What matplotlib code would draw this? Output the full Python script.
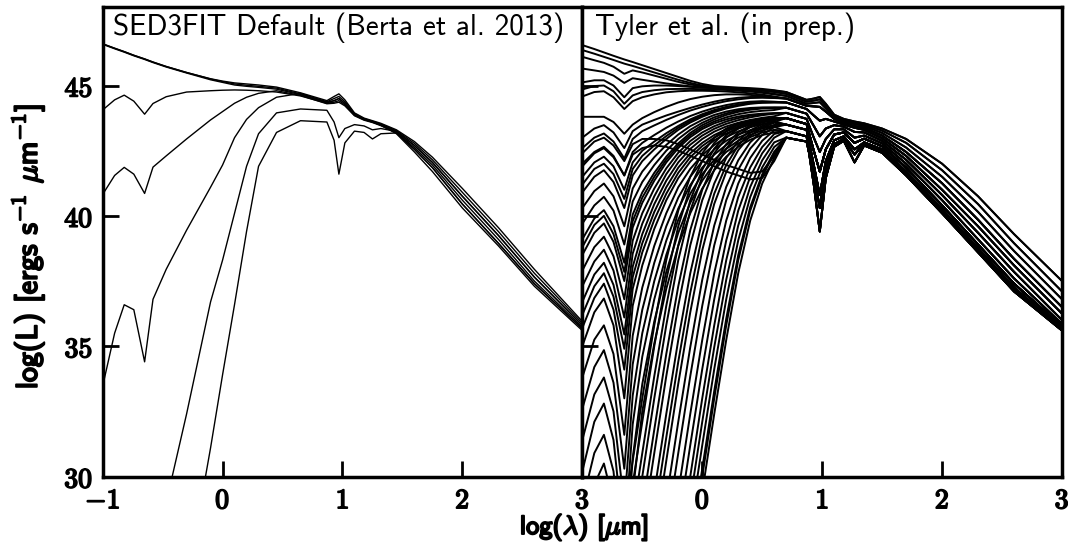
import numpy as np
import matplotlib.pyplot as plt
import matplotlib.patheffects as pe
from matplotlib.ticker import FuncFormatter

plt.rcParams['mathtext.fontset'] = 'cm'
nan = np.nan

# ---- left panel: SED3FIT default AGN templates (log lambda grid) ----
x_left = [-1.0, -0.9, -0.82, -0.74, -0.65, -0.58, -0.47, -0.3, -0.1, 0.0,
          0.1, 0.2, 0.3, 0.45, 0.65, 0.87, 0.93, 0.97, 1.02, 1.1,
          1.18, 1.25, 1.32, 1.45, 1.6, 1.75, 2.0, 2.3, 2.6, 3.0]

sed_a1 = [46.6, 46.43, 46.3, 46.16, 46.02, 45.9, 45.73, 45.5, 45.26, 45.17,
          45.1, 45.06, 45.02, 44.94, 44.72, 44.42, 44.58, 44.68, 44.45, 43.95,
          43.75, 43.65, 43.55, 43.3, 42.85, 42.25, 41.05, 39.55, 37.95, 35.95]
sed_a2 = [46.6, 46.43, 46.3, 46.16, 46.02, 45.9, 45.73, 45.5, 45.25, 45.15,
          45.06, 45.01, 44.97, 44.9, 44.68, 44.38, 44.5, 44.58, 44.38, 43.92,
          43.73, 43.63, 43.52, 43.27, 42.78, 42.15, 40.9, 39.4, 37.8, 35.88]
sed_a3 = [46.58, 46.41, 46.28, 46.14, 46.0, 45.88, 45.71, 45.48, 45.22, 45.12,
          45.02, 44.97, 44.93, 44.86, 44.65, 44.34, 44.42, 44.5, 44.32, 43.9,
          43.71, 43.61, 43.5, 43.24, 42.7, 42.05, 40.75, 39.25, 37.65, 35.8]
sed_b = [44.06, 44.45, 44.63, 44.4, 43.9, 44.31, 44.57, 44.75, 44.8, 44.82,
         44.83, 44.82, 44.8, 44.75, 44.6, 44.32, 44.36, 44.42, 44.26, 43.86,
         43.69, 43.6, 43.48, 43.21, 42.62, 41.95, 40.6, 39.1, 37.5, 35.73]
sed_c = [40.82, 41.55, 41.86, 41.6, 40.86, 41.87, 42.3, 42.95, 43.68, 44.0,
         44.32, 44.55, 44.7, 44.8, 44.62, 44.3, 44.32, 44.36, 44.22, 43.84,
         43.67, 43.58, 43.46, 43.18, 42.55, 41.85, 40.45, 38.95, 37.4, 35.67]
sed_d = [33.46, 35.5, 36.59, 36.4, 34.4, 36.8, 37.95, 39.45, 41.1, 41.95,
         43.0, 43.7, 44.15, 44.55, 44.7, 44.36, 44.42, 44.5, 44.3, 43.88,
         43.7, 43.6, 43.48, 43.15, 42.45, 41.7, 40.3, 38.85, 37.3, 35.6]
sed_e = [nan, nan, nan, nan, nan, nan, 29.0, 32.4, 36.7, 38.3,
         40.1, 41.9, 43.15, 43.95, 44.1, 44.05, 43.6, 43.0, 43.35, 43.5,
         43.45, 43.3, 43.35, 43.24, 42.7, 42.05, 40.75, 39.25, 37.65, 35.8]
sed_f = [nan, nan, nan, nan, nan, nan, nan, 25.9, 31.1, 33.9,
         36.6, 39.4, 41.9, 43.2, 43.65, 43.6, 42.9, 41.6, 42.8, 43.25,
         43.2, 42.95, 43.15, 43.18, 42.55, 41.85, 40.45, 38.95, 37.4, 35.67]

# ---- right panel: Tyler et al. templates ----
# optical / near-IR part
x_uv = [-1.0, -0.9, -0.82, -0.74, -0.65, -0.58, -0.5, -0.4, -0.3, -0.2,
        -0.1, 0.0, 0.1, 0.2, 0.3, 0.4, 0.5, 0.6]
# mid / far-IR part
x_ir = [0.7, 0.87, 0.93, 0.98, 1.03, 1.1, 1.18, 1.27, 1.35, 1.5,
        1.7, 2.0, 2.3, 2.6, 3.0]

ir_shapes = [
    [44.75, 44.45, 44.5, 44.56, 44.3, 43.88, 43.72, 43.62, 43.55, 43.35, 42.95, 42.0, 40.75, 39.3, 37.5],
    [44.68, 44.38, 44.42, 44.47, 44.22, 43.83, 43.68, 43.57, 43.5, 43.27, 42.8, 41.75, 40.45, 38.95, 37.1],
    [44.6, 44.3, 44.33, 44.36, 44.12, 43.78, 43.63, 43.52, 43.45, 43.18, 42.62, 41.5, 40.15, 38.65, 36.8],
    [44.5, 44.22, 44.2, 44.18, 44.0, 43.72, 43.57, 43.44, 43.38, 43.08, 42.45, 41.25, 39.85, 38.35, 36.5],
    [44.35, 44.1, 43.85, 43.65, 43.72, 43.62, 43.5, 43.38, 43.3, 42.98, 42.3, 41.0, 39.6, 38.1, 36.25],
    [44.15, 43.92, 43.45, 43.05, 43.35, 43.48, 43.42, 43.22, 43.2, 42.88, 42.15, 40.8, 39.35, 37.85, 36.0],
    [43.95, 43.72, 43.0, 42.45, 42.95, 43.32, 43.32, 43.0, 43.08, 42.78, 42.0, 40.6, 39.1, 37.6, 35.85],
    [43.75, 43.52, 42.5, 41.7, 42.55, 43.12, 43.2, 42.8, 42.96, 42.67, 41.85, 40.4, 38.9, 37.4, 35.75],
    [43.5, 43.3, 41.95, 40.8, 42.1, 42.9, 43.05, 42.55, 42.82, 42.55, 41.7, 40.25, 38.75, 37.25, 35.65],
    [43.25, 43.05, 41.2, 39.4, 41.45, 42.65, 42.88, 42.05, 42.7, 42.42, 41.55, 40.1, 38.6, 37.1, 35.6],
    [43.0, 42.85, 41.6, 40.3, 41.8, 42.75, 42.95, 42.35, 42.78, 42.48, 41.62, 40.15, 38.65, 37.15, 35.62],
]

tyler_blue = [
    [46.55, 46.4, 46.27, 46.14, 46.0, 45.9, 45.78, 45.63, 45.48, 45.33, 45.18, 45.06, 44.98, 44.95, 44.92, 44.9, 44.87, 44.82],
    [46.36, 46.22, 46.1, 45.98, 45.84, 45.75, 45.64, 45.5, 45.36, 45.22, 45.1, 45.0, 44.94, 44.9, 44.88, 44.85, 44.82, 44.76],
    [46.1, 45.97, 45.87, 45.72, 45.45, 45.58, 45.5, 45.38, 45.26, 45.14, 45.04, 44.97, 44.93, 44.9, 44.87, 44.85, 44.83, 44.8],
    [45.65, 45.58, 45.52, 45.38, 45.1, 45.28, 45.22, 45.15, 45.08, 45.02, 44.97, 44.93, 44.9, 44.87, 44.84, 44.8, 44.75, 44.68],
    [45.12, 45.2, 45.2, 45.0, 44.55, 44.9, 44.97, 45.0, 45.0, 44.98, 44.95, 44.92, 44.9, 44.88, 44.86, 44.83, 44.8, 44.75],
    [44.85, 44.98, 45.0, 44.78, 44.3, 44.62, 44.75, 44.82, 44.86, 44.87, 44.87, 44.86, 44.85, 44.83, 44.8, 44.77, 44.72, 44.66],
    [44.58, 44.75, 44.78, 44.55, 44.1, 44.4, 44.55, 44.66, 44.74, 44.78, 44.8, 44.8, 44.79, 44.77, 44.74, 44.7, 44.65, 44.58],
    [43.8, 43.8, 43.8, 43.6, 43.15, 43.5, 43.75, 43.98, 44.18, 44.35, 44.48, 44.57, 44.63, 44.66, 44.66, 44.64, 44.6, 44.55],
]
blue_ir = [0, 1, 0, 2, 1, 2, 3, 3]

tyler_bumps = [
    [43.0, 43.35, 43.48, 43.2, 42.6, 43.25, 43.5, 43.68, 43.85, 44.0, 44.14, 44.27, 44.38, 44.47, 44.53, 44.56, 44.56, 44.53],
    [42.6, 43.0, 43.16, 42.85, 42.2, 42.95, 43.25, 43.47, 43.68, 43.87, 44.04, 44.18, 44.3, 44.4, 44.47, 44.52, 44.53, 44.52],
    [42.0, 42.45, 42.65, 42.3, 41.55, 42.45, 42.8, 43.1, 43.38, 43.62, 43.83, 44.0, 44.14, 44.25, 44.33, 44.38, 44.4, 44.38],
    [41.5, 42.05, 42.27, 41.9, 41.0, 42.05, 42.5, 42.85, 43.17, 43.45, 43.7, 43.9, 44.06, 44.18, 44.27, 44.33, 44.36, 44.36],
    [41.2, 41.8, 42.0, 41.6, 40.65, 41.8, 42.3, 42.7, 43.06, 43.38, 43.64, 43.85, 44.02, 44.15, 44.25, 44.32, 44.35, 44.36],
    [40.9, 41.5, 41.75, 41.3, 40.3, 41.55, 42.1, 42.55, 42.95, 43.3, 43.58, 43.8, 43.98, 44.12, 44.22, 44.3, 44.34, 44.35],
    [40.3, 40.95, 41.24, 40.75, 39.6, 41.05, 41.7, 42.25, 42.72, 43.12, 43.44, 43.68, 43.87, 44.0, 44.09, 44.14, 44.16, 44.16],
    [39.7, 40.4, 40.73, 40.2, 38.9, 40.55, 41.3, 41.95, 42.5, 42.95, 43.3, 43.57, 43.78, 43.93, 44.04, 44.1, 44.14, 44.15],
    [39.1, 39.9, 40.22, 39.6, 38.2, 40.05, 40.9, 41.65, 42.27, 42.78, 43.18, 43.48, 43.7, 43.87, 43.99, 44.07, 44.12, 44.14],
    [38.8, 39.65, 40.0, 39.3, 37.85, 39.8, 40.7, 41.5, 42.16, 42.69, 43.1, 43.4, 43.62, 43.78, 43.9, 43.98, 44.03, 44.06],
    [38.5, 39.35, 39.71, 39.0, 37.5, 39.55, 40.5, 41.35, 42.05, 42.6, 43.02, 43.33, 43.55, 43.7, 43.81, 43.88, 43.92, 43.94],
    [37.9, 38.8, 39.2, 38.45, 36.8, 39.05, 40.1, 41.05, 41.82, 42.42, 42.87, 43.2, 43.44, 43.62, 43.75, 43.84, 43.9, 43.93],
    [37.3, 38.25, 38.7, 37.9, 36.1, 38.55, 39.7, 40.75, 41.6, 42.25, 42.73, 43.08, 43.34, 43.53, 43.67, 43.78, 43.86, 43.92],
    [36.7, 37.75, 38.2, 37.35, 35.45, 38.05, 39.3, 40.45, 41.35, 42.05, 42.57, 42.95, 43.23, 43.43, 43.57, 43.68, 43.76, 43.82],
    [36.2, 37.3, 37.8, 36.9, 34.9, 37.65, 38.95, 40.15, 41.1, 41.85, 42.4, 42.8, 43.1, 43.32, 43.48, 43.6, 43.68, 43.73],
    [35.7, 36.85, 37.4, 36.4, 34.1, 37.2, 38.6, 39.85, 40.85, 41.65, 42.25, 42.68, 43.0, 43.24, 43.42, 43.55, 43.65, 43.72],
    [35.0, 36.3, 36.83, 35.8, 33.0, 36.55, 38.1, 39.5, 40.6, 41.45, 42.08, 42.55, 42.9, 43.16, 43.35, 43.5, 43.62, 43.7],
    [33.8, 35.25, 35.8, 34.7, 31.6, 35.4, 37.25, 38.85, 40.1, 41.1, 41.8, 42.33, 42.72, 43.02, 43.24, 43.4, 43.52, 43.6],
    [32.6, 34.2, 34.85, 33.6, 30.3, 34.3, 36.4, 38.2, 39.6, 40.7, 41.5, 42.1, 42.55, 42.88, 43.12, 43.28, 43.4, 43.47],
    [31.4, 33.15, 33.8, 32.5, 28.9, 33.1, 35.5, 37.5, 39.05, 40.28, 41.18, 41.85, 42.35, 42.72, 43.0, 43.2, 43.35, 43.45],
    [30.2, 32.1, 32.8, 31.4, 27.5, 32.0, 34.6, 36.8, 38.5, 39.85, 40.85, 41.6, 42.15, 42.57, 42.88, 43.1, 43.28, 43.4],
    [29.0, 30.9, 31.6, 30.2, 26.2, 30.7, 33.55, 35.95, 37.85, 39.35, 40.5, 41.35, 42.0, 42.45, 42.78, 43.02, 43.2, 43.3],
    [27.8, 29.7, 30.5, 29.0, 25.0, 29.4, 32.5, 35.1, 37.2, 38.85, 40.1, 41.05, 41.75, 42.27, 42.65, 42.92, 43.1, 43.2],
]
bumps_ir = [3, 3, 4, 4, 4, 4, 5, 5, 5, 5, 6, 6, 6, 6, 7, 7, 7, 7, 8, 8, 8, 9, 9]

tyler_flat = [
    [42.4, 42.85, 43.0, 42.7, 42.1, 42.75, 42.95, 42.95, 42.9, 42.75, 42.55, 42.35, 42.15, 41.95, 41.8, 41.65, 41.7, 42.3],
    [41.9, 42.4, 42.6, 42.25, 41.55, 42.35, 42.6, 42.7, 42.65, 42.5, 42.3, 42.1, 41.9, 41.7, 41.55, 41.4, 41.45, 42.1],
]
flat_ir = [10, 10]

tyler_steep = [
    [nan, nan, nan, 25.8, 28.5, 30.6, 33.0, 35.8, 38.3, 40.2, 41.5, 42.4, 43.0, 43.35, 43.55, 43.65, 43.72, 43.76],
    [nan, nan, nan, 24.9, 27.6, 29.7, 32.1, 35.0, 37.55, 39.6, 41.1, 42.1, 42.8, 43.25, 43.5, 43.62, 43.7, 43.75],
    [nan, nan, nan, nan, 26.4, 28.5, 30.9, 33.85, 36.55, 38.87, 40.6, 41.77, 42.58, 43.1, 43.41, 43.58, 43.67, 43.73],
    [nan, nan, nan, nan, 25.5, 27.6, 30.0, 33.0, 35.8, 38.3, 40.2, 41.5, 42.4, 43.0, 43.35, 43.55, 43.65, 43.72],
    [nan, nan, nan, nan, nan, 26.4, 28.8, 31.8, 34.7, 37.3, 39.45, 41.0, 42.05, 42.75, 43.2, 43.47, 43.61, 43.69],
    [nan, nan, nan, nan, nan, 25.5, 27.9, 30.9, 33.85, 36.55, 38.87, 40.6, 41.77, 42.58, 43.1, 43.41, 43.58, 43.67],
    [nan, nan, nan, nan, nan, nan, 26.4, 29.4, 32.4, 35.24, 37.8, 39.82, 41.24, 42.22, 42.88, 43.28, 43.51, 43.63],
    [nan, nan, nan, nan, nan, nan, 25.5, 28.5, 31.5, 34.4, 37.05, 39.25, 40.85, 41.95, 42.7, 43.18, 43.45, 43.6],
    [nan, nan, nan, nan, nan, nan, 24.6, 27.6, 30.6, 33.56, 36.3, 38.68, 40.46, 41.68, 42.52, 43.07, 43.39, 43.57],
    [nan, nan, nan, nan, nan, nan, nan, 26.1, 29.1, 32.1, 34.96, 37.55, 39.63, 41.11, 42.13, 42.82, 43.25, 43.49],
    [nan, nan, nan, nan, nan, nan, nan, 24.9, 27.9, 30.9, 33.85, 36.55, 38.87, 40.6, 41.77, 42.58, 43.1, 43.41],
    [nan, nan, nan, nan, nan, nan, nan, nan, 26.4, 29.4, 32.4, 35.24, 37.8, 39.82, 41.24, 42.22, 42.88, 43.28],
    [nan, nan, nan, nan, nan, nan, nan, nan, 25.2, 28.2, 31.2, 34.12, 36.8, 39.06, 40.72, 41.86, 42.64, 43.14],
    [nan, nan, nan, nan, nan, nan, nan, nan, nan, 27.0, 30.0, 33.0, 35.8, 38.3, 40.2, 41.5, 42.4, 43.0],
    [nan, nan, nan, nan, nan, nan, nan, nan, nan, 26.1, 29.1, 32.1, 34.96, 37.55, 39.63, 41.11, 42.13, 42.82],
    [nan, nan, nan, nan, nan, nan, nan, nan, nan, nan, 28.2, 31.2, 34.12, 36.8, 39.06, 40.72, 41.86, 42.64],
    [nan, nan, nan, nan, nan, nan, nan, nan, nan, nan, 27.3, 30.3, 33.28, 36.05, 38.49, 40.33, 41.59, 42.46],
    [nan, nan, nan, nan, nan, nan, nan, nan, nan, nan, 27.0, 30.0, 33.0, 35.8, 38.3, 40.2, 41.5, 42.4],
    [nan, nan, nan, nan, nan, nan, nan, nan, nan, nan, 26.4, 29.4, 32.4, 35.24, 37.8, 39.82, 41.24, 42.22],
]
steep_ir = [7, 7, 7, 7, 7, 7, 8, 8, 8, 8, 9, 9, 9, 9, 10, 10, 10, 10, 10]

left_seds = [sed_a1, sed_a2, sed_a3, sed_b, sed_c, sed_d, sed_e, sed_f]
tyler_uv = tyler_blue + tyler_bumps + tyler_flat + tyler_steep
tyler_pick = blue_ir + bumps_ir + flat_ir + steep_ir


def bold_num(v, pos):
    return r'$\mathbf{%d}$' % round(v)


fig, (ax1, ax2) = plt.subplots(1, 2, sharey=True, figsize=(10.68, 5.42), dpi=100)
fig.subplots_adjust(left=0.0961, right=0.9944, bottom=0.1208, top=0.9865, wspace=0)

for sed in left_seds:
    ax1.plot(x_left, sed, color='black', lw=1.0)

for uv, k in zip(tyler_uv, tyler_pick):
    ax2.plot(x_uv + x_ir, uv + ir_shapes[k], color='black', lw=1.4)

for ax in (ax1, ax2):
    ax.set_xlim(-1, 3)
    ax.set_ylim(30, 48)
    ax.tick_params(direction='in', length=11.5, width=2, labelsize=20, pad=7)
    for s in ax.spines.values():
        s.set_linewidth(2.5)
    ax.xaxis.set_major_formatter(FuncFormatter(bold_num))
    ax.yaxis.set_major_formatter(FuncFormatter(bold_num))

ax1.set_xticks([-1, 0, 1, 2, 3])
ax2.set_xticks([0, 1, 2, 3])
ax1.set_yticks([30, 35, 40, 45])

tick_bold = [pe.withStroke(linewidth=1.2, foreground='black')]
for lab in ax1.get_xticklabels() + ax1.get_yticklabels() + ax2.get_xticklabels():
    lab.set_path_effects(tick_bold)

ax1.text(0.022, 0.99, 'SED3FIT Default (Berta et al. 2013)', family='cmss10',
         transform=ax1.transAxes, ha='left', va='top', fontsize=21)
ax2.text(0.027, 0.99, 'Tyler et al. (in prep.)', family='cmss10',
         transform=ax2.transAxes, ha='left', va='top', fontsize=21)

label_bold = [pe.withStroke(linewidth=1.4, foreground='black')]
fig.text(0.026, 0.545, r'log(L) [ergs s$^{-1}$ $\mu$m$^{-1}$]', family='cmss10',
         rotation=90, ha='center', va='center', fontsize=21.5, path_effects=label_bold)
fig.text(0.547, 0.0, r'log($\lambda$) [$\mu$m]', family='cmss10',
         ha='center', va='bottom', fontsize=19, path_effects=label_bold)

plt.savefig('out.png', dpi=100)
